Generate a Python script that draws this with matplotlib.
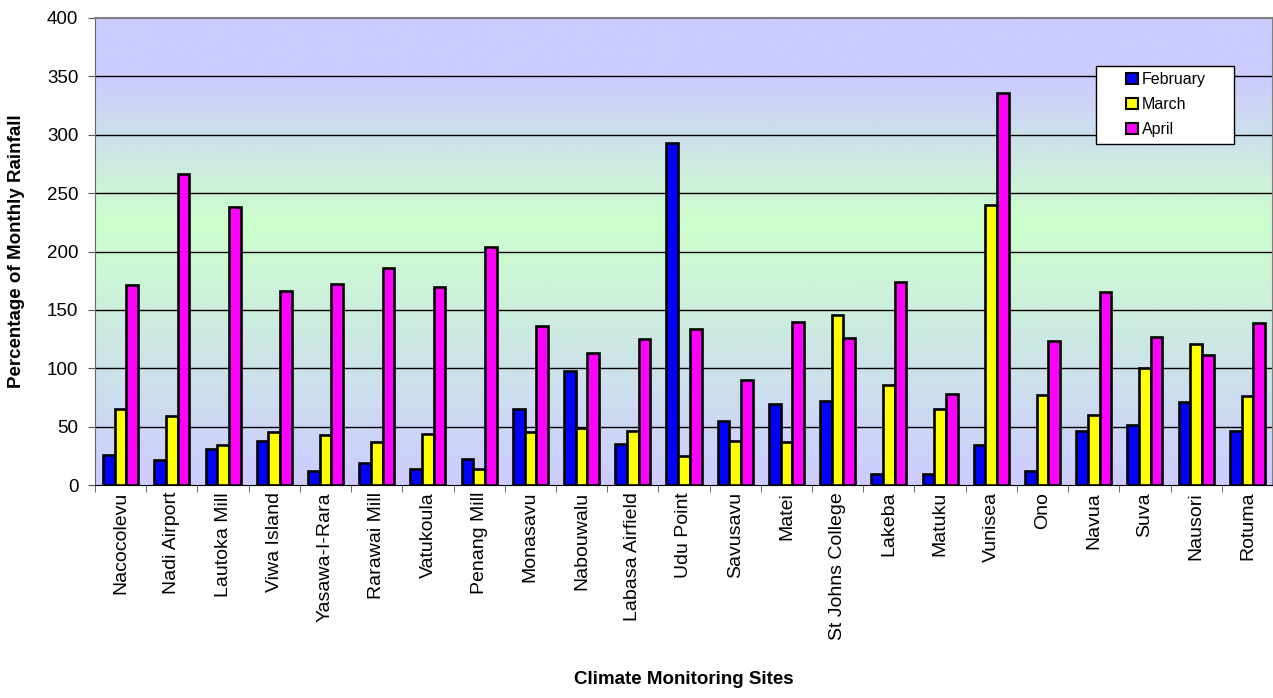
import numpy as np
import matplotlib
matplotlib.use("Agg")
import matplotlib.pyplot as plt
from matplotlib.colors import LinearSegmentedColormap
from matplotlib.patches import Rectangle

plt.rcParams['font.family'] = ['Liberation Sans', 'DejaVu Sans']

# data
sites = ['Nacocolevu', 'Nadi Airport', 'Lautoka Mill', 'Viwa Island', 'Yasawa-I-Rara',
         'Rarawai Mill', 'Vatukoula', 'Penang Mill', 'Monasavu', 'Nabouwalu',
         'Labasa Airfield', 'Udu Point', 'Savusavu', 'Matei', 'St Johns College',
         'Lakeba', 'Matuku', 'Vunisea', 'Ono', 'Navua', 'Suva', 'Nausori', 'Rotuma']
february = [26, 21, 31, 38, 12, 19, 14, 22, 65, 98, 35, 293, 55, 69, 72, 9, 9, 34, 12, 46, 51, 71, 46]
march = [65, 59, 34, 45, 43, 37, 44, 14, 45, 49, 46, 25, 38, 37, 146, 86, 65, 240, 77, 60, 100, 121, 76]
april = [171, 266, 238, 166, 172, 186, 170, 204, 136, 113, 125, 134, 90, 140, 126, 174, 78, 336, 123, 165, 127, 111, 139]
series_names = ['February', 'March', 'April']
series_colors = ['#0000FF', '#FFFF00', '#FF00FF']

fig = plt.figure(figsize=(12.73, 6.98), dpi=100)
ax = fig.add_axes([95/1273, 213/698, 1178/1273, 467/698])

n = len(sites)
x = np.arange(n)
ymax = 400

# background gradient (lavender -> green -> lavender)
bg = LinearSegmentedColormap.from_list('bg', [(0.0, '#CCCCFF'), (0.56, '#CCFFCC'),
                                              (0.87, '#CCCCFF'), (1.0, '#CCCCFF')])
grad = np.linspace(0, 1, 256).reshape(-1, 1)
ax.imshow(grad, cmap=bg, origin='lower', aspect='auto',
          extent=[-0.5, n - 0.5, 0, ymax], zorder=0)

for yv in range(50, ymax, 50):
    ax.axhline(yv, color='black', lw=1, zorder=1)

w = 0.228
for k, (vals, name, col) in enumerate(zip([february, march, april], series_names, series_colors)):
    ax.bar(x + (k - 1) * w, vals, width=w, color=col, edgecolor='black',
           linewidth=1.9, label=name, zorder=3)

ax.set_xlim(-0.5, n - 0.5)
ax.set_ylim(0, ymax)
ax.set_yticks(range(0, ymax + 1, 50))
ax.set_xticks(x)
ax.set_xticklabels(sites, rotation=90, va='top', ha='center', fontsize=14)
ax.set_xticks(np.arange(-0.5, n, 1), minor=True)
ax.tick_params(axis='x', which='major', length=0, pad=5)
ax.tick_params(axis='x', which='minor', length=5, color='#555555', direction='out')
ax.tick_params(axis='y', length=5, color='#555555', labelsize=13.5, pad=7)

for s in ['top', 'right']:
    ax.spines[s].set_color('#808080')
    ax.spines[s].set_linewidth(1.5)
ax.spines['left'].set_color('#666666')
ax.spines['bottom'].set_color('black')

ax.set_xlabel('Climate Monitoring Sites', fontsize=13.5, fontweight='bold', va='center')
ax.xaxis.set_label_coords(0.5, (485 - 679) / 467)
ax.set_ylabel('Percentage of Monthly Rainfall', fontsize=13.5, fontweight='bold', va='center')
ax.yaxis.set_label_coords((17 - 95) / 1178, 0.5)

# legend box drawn separately so it can be wider than its content
box = Rectangle(((1096 - 95) / 1178, (485 - 144) / 467), 138 / 1178, 78 / 467,
                transform=ax.transAxes, facecolor='white', edgecolor='black',
                linewidth=1, zorder=4)
ax.add_patch(box)
leg = ax.legend(loc='upper left', bbox_to_anchor=((1126 - 95) / 1178, (485 - 72) / 467),
                fontsize=11.5, frameon=False,
                handlelength=0.72, handleheight=0.72, handletextpad=0.25,
                borderpad=0, labelspacing=0.62, borderaxespad=0)
for h in leg.legend_handles:
    h.set_linewidth(1.5)
leg.set_zorder(5)

fig.savefig('out.png', dpi=100)
